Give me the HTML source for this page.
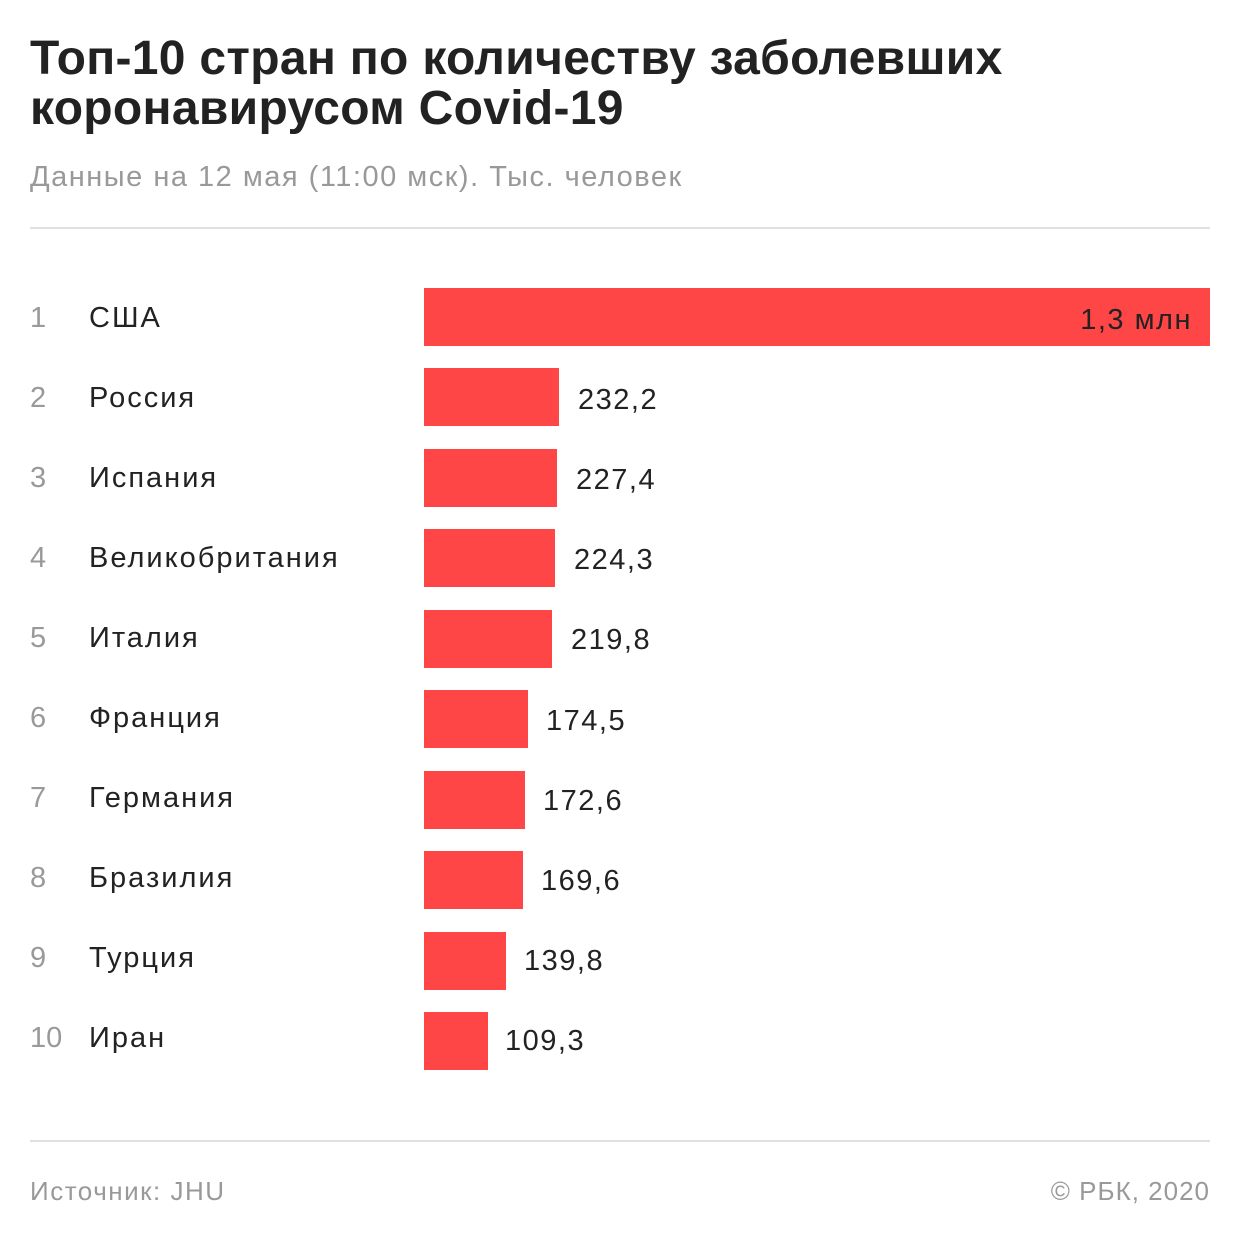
<!DOCTYPE html>
<html><head><meta charset="utf-8"><style>
body{margin:0;width:1240px;height:1240px;background:#fff;position:relative;font-family:"Liberation Sans",sans-serif;overflow:hidden}
.a{position:absolute;white-space:nowrap}
.t{left:30px;font-size:48px;font-weight:bold;color:#222;letter-spacing:0.3px}
.bar{position:absolute;left:424px;height:58px;background:#ff4646}
.n{left:30px;font-size:29px;color:#999}
.c{left:89px;font-size:29px;color:#222;letter-spacing:2px}
.v{font-size:29px;color:#222;letter-spacing:1.5px}
</style></head><body>
<div class="a t" style="top:31px">Топ-10 стран по количеству заболевших</div>
<div class="a t" style="top:81px">коронавирусом Covid-19</div>
<div class="a" style="left:30px;top:161px;font-size:29px;color:#999;letter-spacing:1.5px">Данные на 12 мая (11:00 мск). Тыс. человек</div>
<div class="a" style="left:30px;top:227px;width:1180px;height:2px;background:#e0e0e0"></div>

<div class="bar" style="top:288px;width:786px"></div>
<div class="a n" style="top:302px">1</div><div class="a c" style="top:302px">США</div>
<div class="a v" style="top:304px;right:18px"><span style="margin-right:30px">1,3 млн</span></div>

<div class="bar" style="top:368px;width:135px"></div>
<div class="a n" style="top:382px">2</div><div class="a c" style="top:382px">Россия</div>
<div class="a v" style="top:384px;left:578px">232,2</div>

<div class="bar" style="top:449px;width:133px"></div>
<div class="a n" style="top:462px">3</div><div class="a c" style="top:462px">Испания</div>
<div class="a v" style="top:464px;left:576px">227,4</div>

<div class="bar" style="top:529px;width:131px"></div>
<div class="a n" style="top:542px">4</div><div class="a c" style="top:542px">Великобритания</div>
<div class="a v" style="top:544px;left:574px">224,3</div>

<div class="bar" style="top:610px;width:128px"></div>
<div class="a n" style="top:622px">5</div><div class="a c" style="top:622px">Италия</div>
<div class="a v" style="top:624px;left:571px">219,8</div>

<div class="bar" style="top:690px;width:104px"></div>
<div class="a n" style="top:702px">6</div><div class="a c" style="top:702px">Франция</div>
<div class="a v" style="top:705px;left:546px">174,5</div>

<div class="bar" style="top:771px;width:101px"></div>
<div class="a n" style="top:782px">7</div><div class="a c" style="top:782px">Германия</div>
<div class="a v" style="top:785px;left:543px">172,6</div>

<div class="bar" style="top:851px;width:99px"></div>
<div class="a n" style="top:862px">8</div><div class="a c" style="top:862px">Бразилия</div>
<div class="a v" style="top:865px;left:541px">169,6</div>

<div class="bar" style="top:932px;width:82px"></div>
<div class="a n" style="top:942px">9</div><div class="a c" style="top:942px">Турция</div>
<div class="a v" style="top:945px;left:524px">139,8</div>

<div class="bar" style="top:1012px;width:64px"></div>
<div class="a n" style="top:1022px">10</div><div class="a c" style="top:1022px">Иран</div>
<div class="a v" style="top:1025px;left:505px">109,3</div>

<div class="a" style="left:30px;top:1140px;width:1180px;height:2px;background:#e0e0e0"></div>
<div class="a" style="left:30px;top:1176px;font-size:26px;color:#999;letter-spacing:1.5px">Источник: JHU</div>
<div class="a" style="right:30px;top:1176px;font-size:26px;color:#999;letter-spacing:1px">© РБК, 2020</div>
</body></html>
